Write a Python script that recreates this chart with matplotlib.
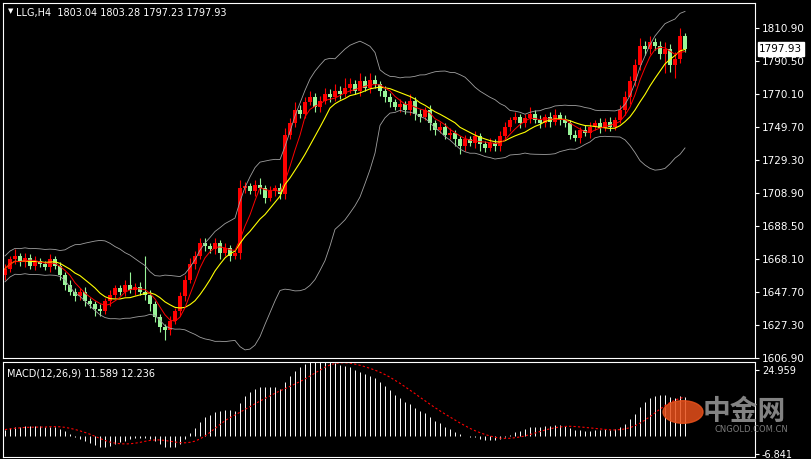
import matplotlib
matplotlib.use("Agg")
import matplotlib.pyplot as plt
import numpy as np
from matplotlib.patches import Circle

closes = [1662,1668,1670,1666,1669,1664,1667,1665,
          1663,1668,1664,1658,
          1652,1648,1645,1648,1642,1640,1637,1636,
          1642,1646,1650,1648,1652,1649,1651,1648,
          1646,1640,1632,1626,
          1624,1630,1636,1645,
          1655,1665,1670,1678,
          1676,1674,1678,1672,1675,1670,1672,
          1712,1713,1710,1714,1712,1706,1710,1712,1708,
          1745,1752,1760,1758,
          1765,1768,1762,1766,1770,
          1768,1772,1770,1774,
          1776,1772,1778,1774,1779,1776,1772,1768,
          1765,1762,1764,1760,1766,1758,1756,1760,
          1752,1748,1750,1745,1746,1742,
          1738,1742,1740,1744,1739,1737,1740,1738,
          1744,1750,1754,1756,1752,1755,1758,1754,
          1752,1756,1753,1757,1754,1752,
          1745,1743,1748,1746,
          1750,1752,1749,1753,1750,1754,
          1760,1768,1778,1788,
          1800,1798,1802,1800,
          1795,1798,1788,1792,1806,1797.93]
first_open = 1658
wick_up = [3,2,4,2,3,2,3,2, 2,3,2,2, 2,3,2,2,3,2,2,3, 2,3,2,2,3,8,2,3,
           22,3,2,2, 2,3,2,3, 3,4,3,3, 3,2,3,2,3,2,2, 5,3,2,3,4,2,3,2,3,
           4,3,5,3, 3,4,3,3,4, 3,4,3,6, 4,3,5,3,4,3,2,3, 3,2,3,2,4,2,3,2,
           3,2,3,2,3,2, 2,3,2,3,2,2,3,2, 3,3,2,3,2,3,4,2, 3,2,3,4,2,3,
           2,3,2,3, 3,2,3,2,3,2, 3,4,3,4, 5,3,4,3, 3,4,3,4,5,2]
wick_dn = [3,2,3,2,3,2,3,2, 2,3,2,3, 3,2,3,2,3,2,4,3, 2,3,2,2,3,2,3,2,
           3,4,3,3, 6,3,2,3, 3,2,3,2, 3,2,3,4,2,3,2, 4,3,2,3,4,3,2,3,3,
           3,3,2,3, 3,2,3,3,2, 3,2,3,2, 3,2,3,2,3,2,3,3, 3,2,3,2,3,4,3,2,
           4,3,2,3,3,4, 5,3,2,3,4,3,2,3, 3,2,3,2,3,2,3,2, 3,2,3,2,3,2,
           3,2,3,2, 3,2,3,2,3,2, 2,3,4,3, 3,4,3,3, 3,12,4,8,3,2]
price_ticks = [1606.90,1627.30,1647.70,1668.10,1688.50,1708.90,1729.30,1749.70,1770.10,1790.50,1810.90]

c = np.array(closes, float)
o = np.concatenate([[first_open], c[:-1]])
h = np.maximum(o, c) + np.array(wick_up)
l = np.minimum(o, c) - np.array(wick_dn)
n = len(c)
x = np.arange(n)

def roll(a, p, f):
    return np.array([f(a[max(0, i-p+1):i+1]) for i in range(len(a))])
def ema(a, p):
    k = 2/(p+1); out = np.zeros(len(a)); out[0] = a[0]
    for i in range(1, len(a)):
        out[i] = a[i]*k + out[i-1]*(1-k)
    return out

mid = roll(c, 20, np.mean)
sd = np.maximum(roll(c, 20, np.std), 4)
ma5 = roll(c, 5, np.mean); ma10 = roll(c, 10, np.mean)
macd = ema(c, 12) - ema(c, 26) + 2.5
sig = roll(macd, 9, np.mean)

fig = plt.figure(figsize=(8.12, 4.59), dpi=100, facecolor='black')
W, H = 812, 459
ax = fig.add_axes([3/W, 1-358/H, 752/W, 355/H], facecolor='black')
ax2 = fig.add_axes([3/W, 1-457/H, 752/W, 95/H], facecolor='black')

up = c >= o
for i in range(n):
    col = '#ff0000' if up[i] else '#98f598'
    ax.vlines(x[i], l[i], h[i], color=col, lw=0.8)
    ax.bar(x[i], max(abs(c[i]-o[i]), 0.3), bottom=min(o[i], c[i]), width=0.7, color=col, lw=0)
ax.plot(x, mid + 2*sd, color='#a0a0a0', lw=0.6)
ax.plot(x, mid - 2*sd, color='#a0a0a0', lw=0.6)
ax.plot(x, ma10, color='#ffff00', lw=0.8)
ax.plot(x, ma5, color='#ff0000', lw=0.7)
ax.set_xlim(-0.4, 150)
ax.set_ylim(1606.90, 1606.90 + 355*20.4/33)
ax.yaxis.tick_right()
ax.set_yticks(price_ticks)
ax.set_yticklabels([f"{v:.2f}" for v in price_ticks], color='white', fontsize=7.5)
ax.tick_params(axis='y', colors='white', length=3, pad=2)
ax.set_xticks([])
for s in ax.spines.values():
    s.set_color('white')
ax.text(0.017, 0.985, "LLG,H4  1803.04 1803.28 1797.23 1797.93", transform=ax.transAxes,
        color='white', fontsize=7, va='top')
ax.text(0.006, 0.985, "▼", transform=ax.transAxes, color='white', fontsize=5, va='top')
ax.annotate("1797.93", xy=(1, 1797.93), xycoords=('axes fraction', 'data'),
            xytext=(3, 0), textcoords='offset points', va='center', fontsize=7.5,
            color='black', bbox=dict(boxstyle='square,pad=0.15', fc='white', ec='white'),
            annotation_clip=False)

ax2.vlines(x, 0, macd, color='white', lw=0.7)
ax2.plot(x, sig, color='#ff0000', lw=0.8, ls=(0, (2, 2)))
ax2.set_xlim(-0.4, 150)
lo, hi = -6.841, 24.959
ax2.set_ylim(lo - 1, hi + 3)
ax2.yaxis.tick_right()
ax2.set_yticks([lo, hi])
ax2.set_yticklabels(["-6.841", "24.959"], color='white', fontsize=7)
ax2.tick_params(axis='y', colors='white', length=3, pad=2)
ax2.set_xticks([])
for s in ax2.spines.values():
    s.set_color('white')
ax2.text(0.005, 0.93, "MACD(12,26,9) 11.589 12.236", transform=ax2.transAxes,
         color='white', fontsize=7, va='top')

fig.patches.append(Circle((683/W, 1-412/H), 20/W, transform=fig.transFigure, color='#e8501a', alpha=0.85))
fig.text(703/W, 1-412/H, "中金网", color='#9a9a9a', fontsize=20, va='center',
         family=['Noto Sans CJK SC', 'DejaVu Sans'], alpha=0.85, fontweight='bold')
fig.text(715/W, 1-432/H, "CNGOLD.COM.CN", color='#9a9a9a', fontsize=6, alpha=0.8)
fig.savefig("out.png", dpi=100, facecolor='black')
